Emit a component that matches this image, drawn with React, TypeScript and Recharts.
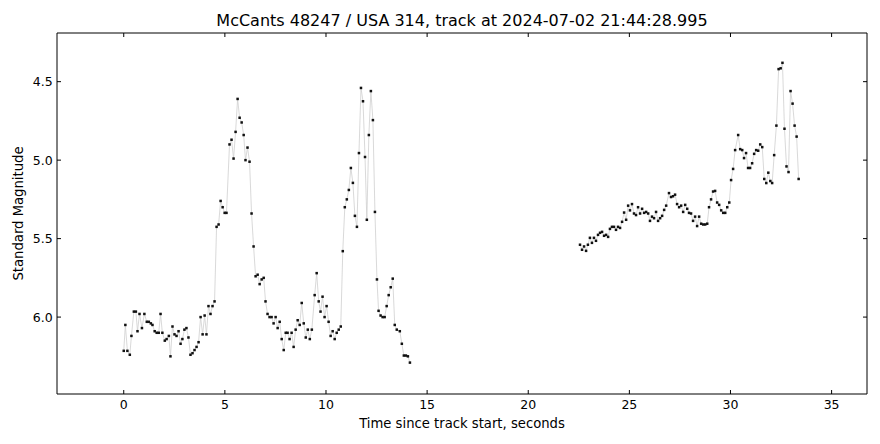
import React from 'react';
import { LineChart, Line, XAxis, YAxis } from 'recharts';

// Segment 1 (first pass)
const times1 = [
  0.0, 0.08, 0.18, 0.3, 0.38, 0.5, 0.6, 0.68, 0.78, 0.9, 1.02, 1.14, 1.24, 1.34, 1.42, 1.53, 1.63, 1.73, 1.82, 1.91,
  2.03, 2.12, 2.23, 2.31, 2.41, 2.51, 2.61, 2.71, 2.81, 2.9, 3.0, 3.1, 3.2, 3.3, 3.4, 3.5, 3.6, 3.7, 3.8, 3.9,
  4.0, 4.09, 4.19, 4.29, 4.39, 4.49, 4.59, 4.69, 4.79, 4.89, 4.99, 5.08, 5.23, 5.33, 5.43, 5.53, 5.63, 5.73, 5.83, 5.93,
  6.02, 6.12, 6.22, 6.32, 6.42, 6.52, 6.62, 6.72, 6.82, 6.92, 7.01, 7.11, 7.21, 7.31, 7.41, 7.51, 7.61, 7.71, 7.81, 7.91,
  8.01, 8.1, 8.2, 8.3, 8.4, 8.5, 8.6, 8.7, 8.8, 8.9, 9.0, 9.1, 9.2, 9.3, 9.44, 9.54, 9.64, 9.73, 9.83, 9.93,
  10.03, 10.13, 10.23, 10.33, 10.43, 10.53, 10.63, 10.73, 10.83, 10.93, 11.03, 11.13, 11.23, 11.33, 11.43, 11.53, 11.63, 11.73, 11.83, 11.93,
  12.02, 12.12, 12.22, 12.32, 12.42, 12.52, 12.6, 12.7, 12.8, 12.9, 13.0, 13.1, 13.2, 13.3, 13.4, 13.5, 13.65, 13.75, 13.85, 13.95,
  14.05, 14.15,
];
const mags1 = [
  6.215, 6.05, 6.215, 6.24, 6.12, 5.965, 5.965, 6.09, 5.98, 6.07, 5.98, 6.03, 6.03, 6.04, 6.05, 6.09, 6.1, 6.1, 5.98, 6.1,
  6.15, 6.14, 6.12, 6.25, 6.06, 6.11, 6.12, 6.09, 6.17, 6.14, 6.08, 6.07, 6.13, 6.24, 6.23, 6.21, 6.19, 6.16, 6.0, 6.11,
  5.99, 6.11, 5.93, 5.98, 5.93, 5.9, 5.425, 5.41, 5.26, 5.3, 5.336, 5.336, 4.9, 4.87, 4.99, 4.82, 4.61, 4.73, 4.76, 4.84,
  5.0, 4.92, 5.01, 5.34, 5.55, 5.74, 5.73, 5.79, 5.76, 5.75, 5.9, 5.98, 6.0, 6.0, 6.04, 6.0, 6.07, 6.03, 6.14, 6.21,
  6.1, 6.1, 6.14, 6.1, 6.19, 6.08, 6.02, 6.05, 5.91, 6.04, 6.13, 6.08, 6.14, 6.08, 5.86, 5.72, 5.9, 5.965, 5.87, 6.0,
  5.93, 6.03, 6.12, 6.09, 6.14, 6.1, 6.08, 6.06, 5.58, 5.3, 5.25, 5.19, 5.05, 5.145, 5.355, 5.425, 4.955, 4.54, 4.625, 4.98,
  5.38, 4.84, 4.56, 4.745, 5.33, 5.76, 5.96, 5.99, 6.0, 6.0, 5.93, 5.86, 5.81, 5.755, 6.05, 6.08, 6.09, 6.17, 6.245, 6.245,
  6.25, 6.29,
];

// Segment 2 (second pass)
const times2 = [
  22.56, 22.66, 22.76, 22.86, 22.95, 23.05, 23.15, 23.25, 23.35, 23.45, 23.55, 23.65, 23.75, 23.85, 23.95, 24.04, 24.14, 24.24, 24.34, 24.44,
  24.54, 24.64, 24.74, 24.84, 24.94, 25.03, 25.13, 25.23, 25.33, 25.43, 25.53, 25.63, 25.73, 25.83, 25.93, 26.02, 26.12, 26.22, 26.32, 26.42,
  26.52, 26.62, 26.72, 26.82, 26.96, 27.06, 27.16, 27.26, 27.36, 27.46, 27.56, 27.66, 27.76, 27.86, 27.95, 28.05, 28.15, 28.25, 28.35, 28.45,
  28.55, 28.65, 28.75, 28.85, 28.94, 29.04, 29.14, 29.24, 29.34, 29.44, 29.54, 29.64, 29.74, 29.84, 29.94, 30.03, 30.13, 30.23, 30.38, 30.48,
  30.58, 30.67, 30.77, 30.87, 30.97, 31.07, 31.17, 31.27, 31.37, 31.47, 31.57, 31.67, 31.77, 31.87, 31.97, 32.06, 32.16, 32.27, 32.38, 32.48,
  32.57, 32.67, 32.77, 32.87, 32.97, 33.07, 33.17, 33.27, 33.37,
];
const mags2 = [
  5.539, 5.571, 5.55, 5.578, 5.539, 5.495, 5.527, 5.495, 5.514, 5.476, 5.463, 5.457, 5.482, 5.476, 5.489, 5.438, 5.425, 5.425, 5.444, 5.425,
  5.432, 5.393, 5.334, 5.38, 5.29, 5.32, 5.28, 5.34, 5.35, 5.3, 5.34, 5.31, 5.336, 5.33, 5.34, 5.387, 5.36, 5.37, 5.33, 5.387,
  5.37, 5.355, 5.317, 5.29, 5.21, 5.235, 5.23, 5.22, 5.28, 5.3, 5.29, 5.33, 5.285, 5.31, 5.336, 5.34, 5.387, 5.36, 5.42, 5.36,
  5.405, 5.41, 5.41, 5.405, 5.3, 5.25, 5.2, 5.196, 5.27, 5.285, 5.32, 5.336, 5.336, 5.3, 5.27, 5.127, 5.056, 4.936, 4.84, 4.93,
  4.936, 4.987, 4.955, 5.05, 5.05, 5.02, 4.96, 4.936, 4.94, 4.9, 4.917, 5.12, 5.146, 5.08, 5.133, 5.146, 4.968, 4.78, 4.42, 4.415,
  4.38, 4.8, 5.04, 5.076, 4.56, 4.64, 4.78, 4.85, 5.12,
];

const xTicks = [0, 5, 10, 15, 20, 25, 30, 35];
const yTicks = [4.5, 5.0, 5.5, 6.0];
const gapTime = 18.3;

const data: { t: number; m: number | null }[] = [
  ...times1.map((t, i) => ({ t, m: mags1[i] })),
  { t: gapTime, m: null },
  ...times2.map((t, i) => ({ t, m: mags2[i] })),
];

const FONT = 'DejaVu Sans, sans-serif';
const TL = 4;
const TICK_FS = 12.5;
const LABEL_FS = 13.2;
const TITLE_FS = 16;

const BottomTick = (p: any) => (
  <g>
    <path d={`M${p.x},${p.y}V${p.y - TL}`} stroke="#000" strokeWidth={1} fill="none" />
    <text x={p.x} y={p.y + 14.5} textAnchor="middle" fontSize={TICK_FS} fontFamily={FONT} fill="#000">
      {p.payload.value}
    </text>
  </g>
);
const TopTick = (p: any) => (
  <path d={`M${p.x},${p.y}V${p.y + TL}`} stroke="#000" strokeWidth={1} fill="none" />
);
const LeftTick = (p: any) => (
  <g>
    <path d={`M${p.x},${p.y}H${p.x + TL}`} stroke="#000" strokeWidth={1} fill="none" />
    <text x={p.x - 4.3} y={p.y + 4.5} textAnchor="end" fontSize={TICK_FS} fontFamily={FONT} fill="#000">
      {Number(p.payload.value).toFixed(1)}
    </text>
  </g>
);
const RightTick = (p: any) => (
  <path d={`M${p.x},${p.y}H${p.x - TL}`} stroke="#000" strokeWidth={1} fill="none" />
);

const Dot = (p: any) => {
  if (p.cy == null || p.value == null) return <g key={p.index} />;
  return <rect key={p.index} x={p.cx - 1.25} y={p.cy - 1.25} width={2.5} height={2.5} fill="#111" />;
};

const axisStroke = { stroke: '#000', strokeWidth: 1 };

export default function App() {
  return (
    <LineChart width={880} height={436} data={data} margin={{ top: 24, right: 20, bottom: 0, left: 0 }}>
      <XAxis
        xAxisId="b"
        dataKey="t"
        type="number"
        domain={[-3.3, 36.75]}
        ticks={xTicks}
        allowDataOverflow
        height={50}
        tickSize={0}
        tickMargin={0}
        tickLine={false}
        tick={<BottomTick />}
        axisLine={axisStroke}
        label={(props: any) => {
          const vb = props.viewBox;
          return (
            <text x={vb.x + vb.width / 2} y={vb.y + 34} textAnchor="middle" fontSize={LABEL_FS} fontFamily={FONT} fill="#000">
              Time since track start, seconds
            </text>
          );
        }}
      />
      <XAxis
        xAxisId="top"
        dataKey="t"
        type="number"
        orientation="top"
        domain={[-3.3, 36.75]}
        ticks={xTicks}
        allowDataOverflow
        height={1}
        tickSize={0}
        tickMargin={0}
        tickLine={false}
        tick={<TopTick />}
        axisLine={axisStroke}
        label={(props: any) => {
          const vb = props.viewBox;
          return (
            <text x={vb.x + vb.width / 2} y={vb.y - 6} textAnchor="middle" fontSize={TITLE_FS} fontFamily={FONT} fill="#000">
              McCants 48247 / USA 314, track at 2024-07-02 21:44:28.995
            </text>
          );
        }}
      />
      <YAxis
        yAxisId="l"
        type="number"
        reversed
        domain={[4.19, 6.49]}
        ticks={yTicks}
        allowDataOverflow
        width={49}
        tickSize={0}
        tickMargin={0}
        tickLine={false}
        tick={<LeftTick />}
        axisLine={axisStroke}
        label={(props: any) => {
          const vb = props.viewBox;
          const cy = vb.y + vb.height / 2;
          return (
            <text x={15} y={cy} transform={`rotate(-90, 15, ${cy})`} textAnchor="middle" fontSize={LABEL_FS} fontFamily={FONT} fill="#000">
              Standard Magnitude
            </text>
          );
        }}
      />
      <YAxis
        yAxisId="r"
        type="number"
        orientation="right"
        reversed
        domain={[4.19, 6.49]}
        ticks={yTicks}
        allowDataOverflow
        width={1}
        tickSize={0}
        tickMargin={0}
        tickLine={false}
        tick={<RightTick />}
        axisLine={axisStroke}
      />
      <Line
        xAxisId="top"
        yAxisId="r"
        dataKey="m"
        stroke="none"
        dot={false}
        activeDot={false}
        isAnimationActive={false}
        legendType="none"
      />
      <Line
        xAxisId="b"
        yAxisId="l"
        dataKey="m"
        type="linear"
        stroke="#cfcfcf"
        strokeWidth={0.8}
        dot={<Dot />}
        activeDot={false}
        isAnimationActive={false}
      />
    </LineChart>
  );
}
